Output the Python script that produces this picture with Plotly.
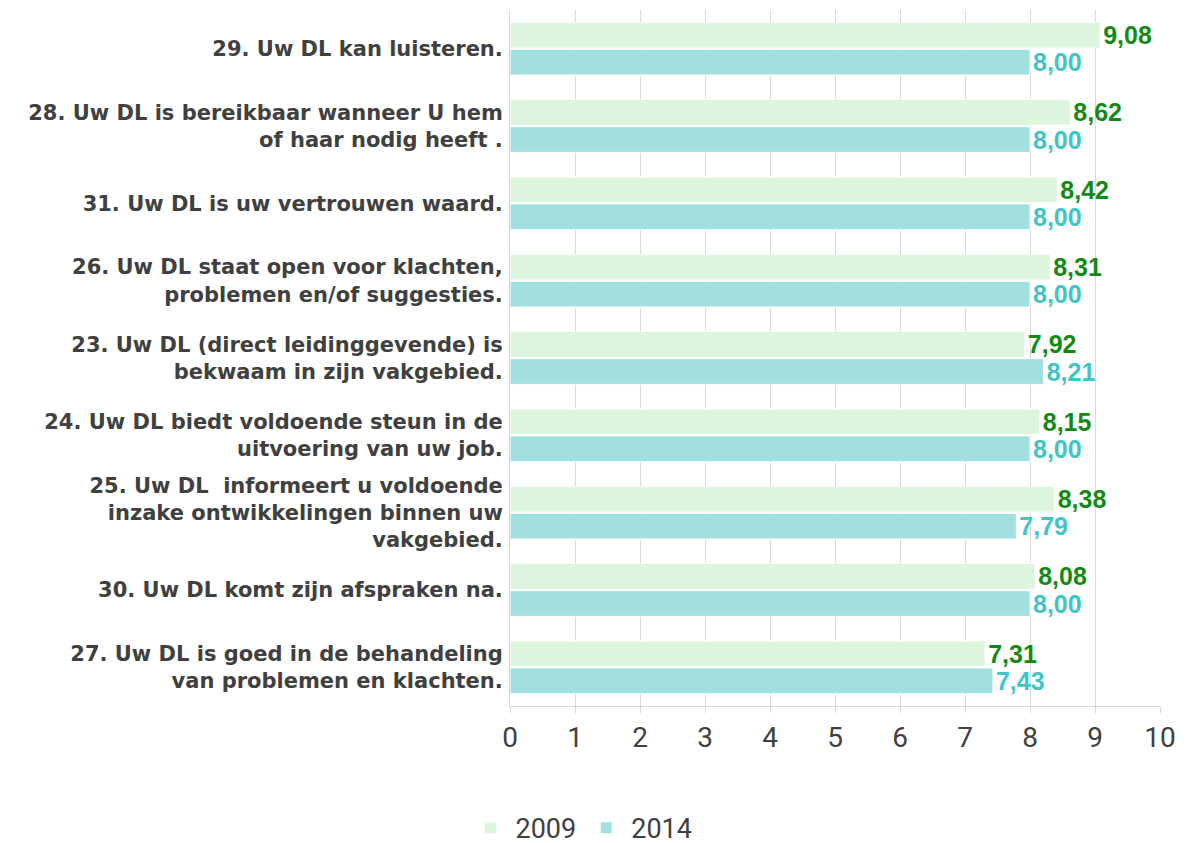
import plotly.graph_objects as go

categories = [
    "29. Uw DL kan luisteren.",
    "28. Uw DL is bereikbaar wanneer U hem<br>of haar nodig heeft .",
    "31. Uw DL is uw vertrouwen waard.",
    "26. Uw DL staat open voor klachten,<br>problemen en/of suggesties.",
    "23. Uw DL (direct leidinggevende) is<br>bekwaam in zijn vakgebied.",
    "24. Uw DL biedt voldoende steun in de<br>uitvoering van uw job.",
    "25. Uw DL  informeert u voldoende<br>inzake ontwikkelingen binnen uw<br>vakgebied.",
    "30. Uw DL komt zijn afspraken na.",
    "27. Uw DL is goed in de behandeling<br>van problemen en klachten.",
]
values_2009 = [9.08, 8.62, 8.42, 8.31, 7.92, 8.15, 8.38, 8.08, 7.31]
values_2014 = [8.00, 8.00, 8.00, 8.00, 8.21, 8.00, 7.79, 8.00, 7.43]
tick_vals = list(range(0, 11))


def fmt(v):
    return f"{v:.2f}".replace(".", ",")


fig = go.Figure()
fig.add_trace(go.Bar(
    name="2009", y=categories, x=values_2009, orientation="h",
    marker=dict(color="#DDF5DD", line=dict(color="white", width=1)),
    text=[fmt(v) for v in values_2009], textposition="outside", constraintext="none",
    textfont=dict(color="#138A13", size=25, family="Liberation Sans", weight="bold"),
    cliponaxis=False,
))
fig.add_trace(go.Bar(
    name="2014", y=categories, x=values_2014, orientation="h",
    marker=dict(color="#A2E0E0", line=dict(color="white", width=1)),
    text=[fmt(v) for v in values_2014], textposition="outside", constraintext="none",
    textfont=dict(color="#3FC4C8", size=25, family="Liberation Sans", weight="bold"),
    cliponaxis=False,
))

fig.update_layout(
    width=1186, height=843,
    barmode="group", bargap=0.3, bargroupgap=0.05,
    paper_bgcolor="white", plot_bgcolor="white",
    margin=dict(l=502, r=34, t=2, b=145),
    font=dict(family="Liberation Sans", color="#404040"),
    showlegend=True,
    legend=dict(orientation="h", x=0.11, xanchor="center", y=0.027, yanchor="middle",
                yref="container", font=dict(size=27, family="Roboto", color="#404040"),
                traceorder="normal", itemwidth=40),
    uniformtext=dict(mode=False),
)
fig.update_xaxes(
    range=[0, 10], tickvals=tick_vals, showgrid=True, gridcolor="#D9D9D9", gridwidth=1,
    showline=True, linecolor="#D9D9D9", ticks="outside", tickcolor="#D9D9D9", ticklen=6,
    tickfont=dict(size=28, family="Roboto", color="#404040"),
    zeroline=False,
)
fig.update_yaxes(
    categoryorder="array", categoryarray=categories, autorange="reversed",
    showline=True, linecolor="#D9D9D9", ticks="", ticklabelstandoff=2,
    tickfont=dict(size=21, family="DejaVu Sans", color="#404040", weight="bold"),
)

fig.write_html("out.html")
